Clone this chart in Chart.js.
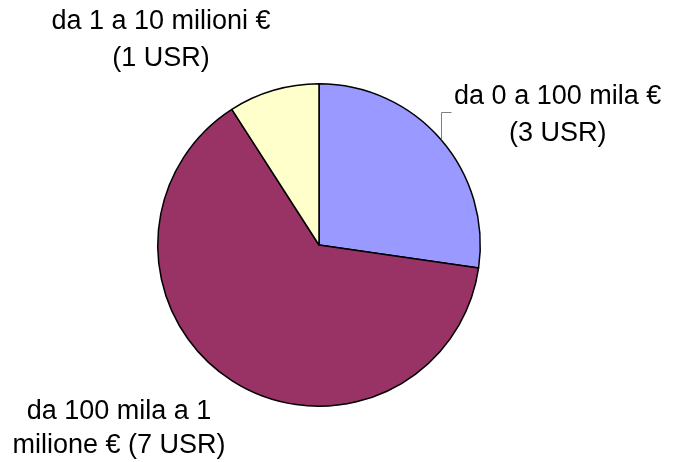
<!DOCTYPE html>
<html lang="it">
<head>
    <meta charset="UTF-8">
    <title>Distribuzione USR</title>
    <script src="https://cdn.jsdelivr.net/npm/chart.js"></script>
    <style>
        body { margin: 0; background: #fff; }
    </style>
</head>
<body>
    <canvas id="pieChart" width="673" height="462"></canvas>

    <script>
        // categorie e valori
        const categories = [
            ['da 0 a 100 mila €', '(3 USR)'],
            ['da 100 mila a 1', 'milione € (7 USR)'],
            ['da 1 a 10 milioni €', '(1 USR)']
        ];
        const values = [3, 7, 1];
        const colors = ['#9999FF', '#993366', '#FFFFCC'];

        // posizione delle etichette rispetto al centro, in unita' di raggio
        const labelOffsets = [
            { x: 1.48, y: -0.806, gap: 37 },
            { x: -1.24, y: 1.136, gap: 34 },
            { x: -0.98, y: -1.268, gap: 37 }
        ];

        const outsideLabels = {
            id: 'outsideLabels',
            afterDraw(chart) {
                const ctx = chart.ctx;
                const arc = chart.getDatasetMeta(0).data[0];
                const cx = arc.x, cy = arc.y, r = arc.outerRadius;
                ctx.save();
                ctx.font = '27px "Liberation Sans", Arial, sans-serif';
                ctx.fillStyle = '#000';
                ctx.textAlign = 'center';
                ctx.textBaseline = 'middle';
                categories.forEach((lines, i) => {
                    const o = labelOffsets[i];
                    const px = cx + o.x * r;
                    const py = cy + o.y * r;
                    lines.forEach((line, j) => {
                        ctx.fillText(line, px, py + (j - (lines.length - 1) / 2) * o.gap);
                    });
                });

                // linea di richiamo per la prima fetta
                const lx = Math.round(cx + 122) + 0.5;
                const ly = cy - Math.sqrt(r * r - 122 * 122);
                ctx.strokeStyle = '#808080';
                ctx.lineWidth = 1;
                ctx.beginPath();
                ctx.moveTo(lx, ly);
                ctx.lineTo(lx, Math.round(ly - 28) + 0.5);
                ctx.lineTo(lx + 10, Math.round(ly - 28) + 0.5);
                ctx.stroke();
                ctx.restore();
            }
        };

        new Chart(document.getElementById('pieChart'), {
            type: 'pie',
            data: {
                labels: categories.map(c => c.join(' ')),
                datasets: [{
                    data: values,
                    backgroundColor: colors,
                    borderColor: '#000',
                    borderWidth: 1.5
                }]
            },
            options: {
                responsive: false,
                animation: false,
                layout: {
                    padding: { left: 157, right: 192, top: 83, bottom: 55 }
                },
                plugins: {
                    legend: { display: false },
                    tooltip: { enabled: false }
                }
            },
            plugins: [outsideLabels]
        });
    </script>
</body>
</html>
